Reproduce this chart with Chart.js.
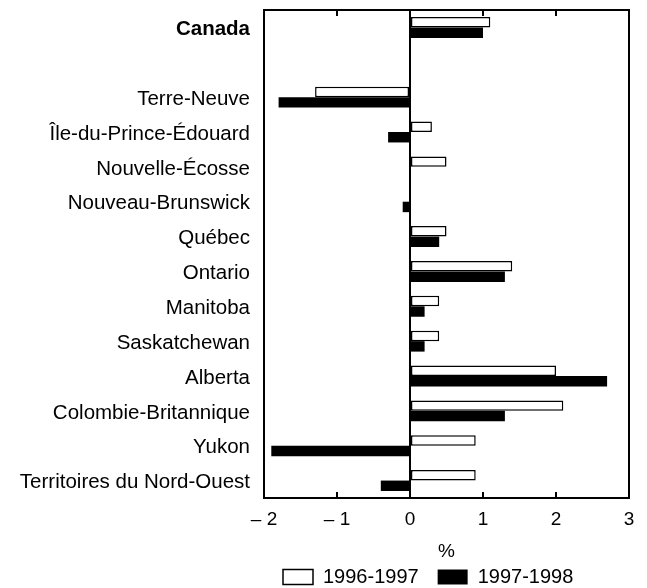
<!DOCTYPE html>
<html>
<head>
<meta charset="utf-8">
<script src="https://cdn.jsdelivr.net/npm/chart.js@4"></script>
<style>
  body { margin: 0; background: #fff; }
  #wrap { width: 647px; height: 588px; }
</style>
</head>
<body>
<div id="wrap"><canvas id="myChart"></canvas></div>
<script>
// rows of the chart, blank row between Canada and the provinces
var regions = ['Canada', '', 'Terre-Neuve', 'Île-du-Prince-Édouard', 'Nouvelle-Écosse',
  'Nouveau-Brunswick', 'Québec', 'Ontario', 'Manitoba', 'Saskatchewan', 'Alberta',
  'Colombie-Britannique', 'Yukon', 'Territoires du Nord-Ouest'];
var y9697 = [1.1, null, -1.3, 0.3, 0.5, 0, 0.5, 1.4, 0.4, 0.4, 2.0, 2.1, 0.9, 0.9];
var y9798 = [1.0, null, -1.8, -0.3, 0, -0.1, 0.4, 1.3, 0.2, 0.2, 2.7, 1.3, -1.9, -0.4];
var seriesNames = ['1996-1997', '1997-1998'];
var xTicks = [-2, -1, 0, 1, 2, 3];

Chart.defaults.font.family = "'Liberation Sans', Arial, sans-serif";
Chart.defaults.color = '#000';

// box round the plot and the small inward ticks on top and bottom
var frame = {
  id: 'frame',
  afterDatasetsDraw(chart) {
    var ctx = chart.ctx, a = chart.chartArea, x = chart.scales.x;
    ctx.save();
    ctx.strokeStyle = '#000';
    ctx.lineWidth = 2;
    ctx.strokeRect(a.left, a.top, a.right - a.left, a.bottom - a.top);
    ctx.beginPath();
    xTicks.forEach(function (v) {
      var px = x.getPixelForValue(v);
      ctx.moveTo(px, a.top); ctx.lineTo(px, a.top + 6);
      ctx.moveTo(px, a.bottom); ctx.lineTo(px, a.bottom - 6);
    });
    ctx.stroke();
    ctx.restore();
  }
};

const myChart = new Chart('myChart', {
  type: 'bar',
  data: {
    labels: regions,
    datasets: [{
      label: seriesNames[0],
      data: y9697,
      backgroundColor: '#fff',
      borderColor: '#000',
      borderWidth: 1.5,
      borderSkipped: false
    }, {
      label: seriesNames[1],
      data: y9798,
      backgroundColor: '#000',
      borderColor: '#000',
      borderWidth: 0
    }]
  },
  options: {
    indexAxis: 'y',
    responsive: true,
    maintainAspectRatio: false,
    animation: false,
    categoryPercentage: 0.6,
    barPercentage: 1.0,
    layout: { padding: { top: 10, right: 18, left: 0, bottom: -9 } },
    scales: {
      x: {
        min: -2, max: 3,
        afterBuildTicks: function (s) { s.ticks = xTicks.map(function (v) { return { value: v }; }); },
        afterFit: function (s) { s.height = 50; s.paddingLeft = 0; s.paddingRight = 0; },
        ticks: {
          padding: 10,
          font: { size: 19 },
          callback: function (v) { return v < 0 ? '\u2013 ' + Math.abs(v) : '' + v; }
        },
        grid: {
          drawTicks: false,
          lineWidth: 2,
          color: function (c) { return c.tick && c.tick.value === 0 ? '#000' : 'rgba(0,0,0,0)'; }
        },
        border: { display: false },
        title: { display: true, text: '%', font: { size: 19 }, padding: { top: 0, bottom: -15 } }
      },
      y: {
        afterFit: function (s) { s.width = 264; s.paddingTop = 0; s.paddingBottom = 0; },
        ticks: {
          padding: 14,
          labelOffset: 2,
          autoSkip: false,
          font: function (c) { return { size: 20.5, weight: c.index === 0 ? 'bold' : 'normal' }; }
        },
        grid: { display: false, drawTicks: false },
        border: { display: false }
      }
    },
    plugins: {
      legend: {
        position: 'bottom',
        align: 'start',
        fullSize: false,
        labels: { boxWidth: 30, boxHeight: 15, padding: 19, font: { size: 20 } }
      },
      tooltip: { enabled: false }
    }
  },
  plugins: [frame]
});
</script>
</body>
</html>
